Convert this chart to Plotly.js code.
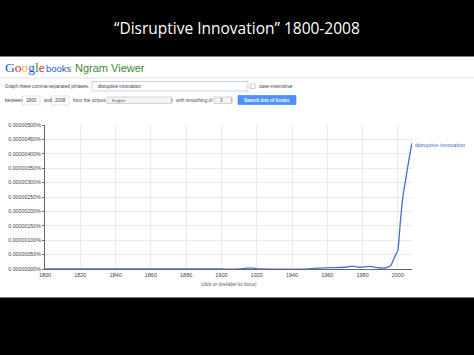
<!DOCTYPE html>
<html>
<head>
<meta charset="utf-8">
<script src="https://cdn.plot.ly/plotly-3.0.1.min.js"></script>
<style>html,body{margin:0;padding:0;background:#000;}#chart{width:474px;height:355px;}</style>
</head>
<body>
<div id="chart"></div>
<script>
// ---- data ----
const phrase = "disruptive innovation";
const years = [1800, 1850, 1900, 1910, 1913, 1915, 1918, 1920, 1922, 1950, 1955, 1960, 1965, 1970, 1974, 1978, 1984, 1988, 1991, 1994, 1996, 1997, 1998, 1999, 2000, 2001, 2002, 2003, 2004, 2005, 2006, 2007, 2008];
const values = [0, 0, 0, 0, 0.02e-6, 0.03e-6, 0.03e-6, 0.01e-6, 0, 0, 0.03e-6, 0.04e-6, 0.05e-6, 0.06e-6, 0.10e-6, 0.06e-6, 0.09e-6, 0.05e-6, 0.03e-6, 0.06e-6, 0.12e-6, 0.25e-6, 0.40e-6, 0.52e-6, 0.64e-6, 1.34e-6, 2.04e-6, 2.58e-6, 2.95e-6, 3.33e-6, 3.70e-6, 4.06e-6, 4.37e-6];
const xTicks = [1800, 1820, 1840, 1860, 1880, 1900, 1920, 1940, 1960, 1980, 2000];
const yTicks = [0, 0.5e-6, 1e-6, 1.5e-6, 2e-6, 2.5e-6, 3e-6, 3.5e-6, 4e-6, 4.5e-6, 5e-6];
const yTickLabels = ["0.00000000%", "0.00000050%", "0.00000100%", "0.00000150%", "0.00000200%", "0.00000250%", "0.00000300%", "0.00000350%", "0.00000400%", "0.00000450%", "0.00000500%"];
const slideTitle = "“Disruptive Innovation” 1800-2008";
const yearFrom = "1800", yearTo = "2008", corpus = "English", smoothing = "3";

// ---- pixel helpers for paper-referenced decorations ----
const L = 45, R = 412, T = 125, B = 269;
const PX = x => (x - L) / (R - L);
const PY = y => (B - y) / (B - T);
const uiFont = {family: "Liberation Sans, Arial, sans-serif", size: 4.7, color: "#444"};

function ann(text, x, y, font, xanchor) {
  return {text: text, x: PX(x), y: PY(y), xref: "paper", yref: "paper",
          xanchor: xanchor || "left", yanchor: "middle", showarrow: false,
          font: Object.assign({}, uiFont, font || {})};
}
function rect(x0, y0, x1, y1, fill, line, layer) {
  return {type: "rect", xref: "paper", yref: "paper", x0: PX(x0), x1: PX(x1), y0: PY(y1), y1: PY(y0),
          fillcolor: fill, line: {color: line || fill, width: line ? 0.6 : 0}, layer: layer || "above"};
}

const shapes = [
  rect(0, 56.5, 474, 297.5, "#ffffff", null, "below"),
  {type: "line", xref: "paper", yref: "paper", x0: PX(0), x1: PX(474), y0: PY(78), y1: PY(78), line: {color: "#d8d8d8", width: 0.8}},
  rect(92, 81.5, 248, 91, "#ffffff", "#9fb5dd"),
  rect(250.5, 84, 255, 88.5, "#ffffff", "#aaaaaa"),
  rect(22, 96, 40, 105, "#ffffff", "#d0d0d0"),
  rect(51, 96, 69, 105, "#ffffff", "#d0d0d0"),
  rect(107, 97, 172, 103.5, "#f4f4f4", "#b8b8b8"),
  rect(214, 97, 232, 103.5, "#f4f4f4", "#b8b8b8"),
  rect(238, 95.5, 296, 104.5, "#4d90fe", "#3d7fe8")
];

const G = '<span style="color:#1a56db">G</span><span style="color:#d62d20">o</span><span style="color:#f2b500">o</span><span style="color:#1a56db">g</span><span style="color:#2a9a3a">l</span><span style="color:#d62d20">e</span>';

const annotations = [
  {text: slideTitle, x: PX(237), y: PY(28), xref: "paper", yref: "paper", xanchor: "center", yanchor: "middle",
   showarrow: false, font: {family: "Open Sans, sans-serif", size: 15.5, color: "#ffffff"}},
  ann(G, 2.5, 67.5, {family: "Liberation Serif, serif", size: 13.5}),
  ann("books", 44, 68, {family: "Liberation Sans, Arial, sans-serif", size: 9.5, color: "#2e5bd0"}),
  ann("Ngram Viewer", 73, 67.5, {family: "Liberation Sans, Arial, sans-serif", size: 11, color: "#3a8a2e"}),
  ann("Graph these comma-separated phrases:", 3, 86, {}),
  ann(phrase, 96, 86.3, {color: "#333"}),
  ann("⌄", 243, 85.5, {color: "#aaa", size: 4}),
  ann("case-insensitive", 257, 86, {}),
  ann("between", 3, 100.5, {}),
  ann(yearFrom, 31, 100.5, {}, "center"),
  ann("and", 42, 100.5, {}),
  ann(yearTo, 60, 100.5, {}, "center"),
  ann("from the corpus", 71, 100.5, {}),
  ann(corpus, 110, 100.3, {size: 4, color: "#555"}),
  ann("⇕", 168, 100.3, {size: 4, color: "#777"}),
  ann("with smoothing of", 174, 100.5, {}),
  ann(smoothing, 218, 100.3, {size: 4.5}),
  ann("⇕", 228, 100.3, {size: 4, color: "#777"}),
  ann(".", 233, 101, {}),
  ann("<b>Search lots of books</b>", 267, 100, {color: "#ffffff", size: 4.6}, "center"),
  ann(phrase, 413, 144.5, {size: 5.5, color: "#4a6cd0"}),
  ann("(click on line/label for focus)", 229, 284, {size: 4.5, color: "#555"}, "center")
];

const trace = {
  x: years, y: values, type: "scatter", mode: "lines",
  line: {color: "#4a6cd0", width: 1.3, shape: "spline", smoothing: 0.6},
  hoverinfo: "skip", cliponaxis: false
};

const layout = {
  width: 474, height: 355,
  margin: {l: L, r: 474 - R, t: T, b: 355 - B, pad: 0},
  paper_bgcolor: "#000000", plot_bgcolor: "rgba(0,0,0,0)",
  showlegend: false,
  font: {family: "Liberation Sans, Arial, sans-serif"},
  xaxis: {range: [1800, 2008], tickvals: xTicks, ticktext: xTicks.map(String),
          showgrid: true, gridcolor: "#e6e6e6", gridwidth: 0.8, zeroline: false,
          showline: true, linecolor: "#666", linewidth: 1, ticks: "", layer: "below traces",
          tickfont: {size: 5.5, color: "#444"}, fixedrange: true},
  yaxis: {range: [0, 5e-6], tickvals: yTicks, ticktext: yTickLabels,
          showgrid: true, gridcolor: "#e6e6e6", gridwidth: 0.8, zeroline: false,
          showline: true, linecolor: "#666", linewidth: 1, ticks: "outside", ticklen: 2, tickcolor: "#666",
          tickfont: {size: 5.3, color: "#444"}, fixedrange: true},
  shapes: shapes,
  annotations: annotations
};

Plotly.newPlot("chart", [trace], layout, {staticPlot: true, displayModeBar: false});
</script>
</body>
</html>
